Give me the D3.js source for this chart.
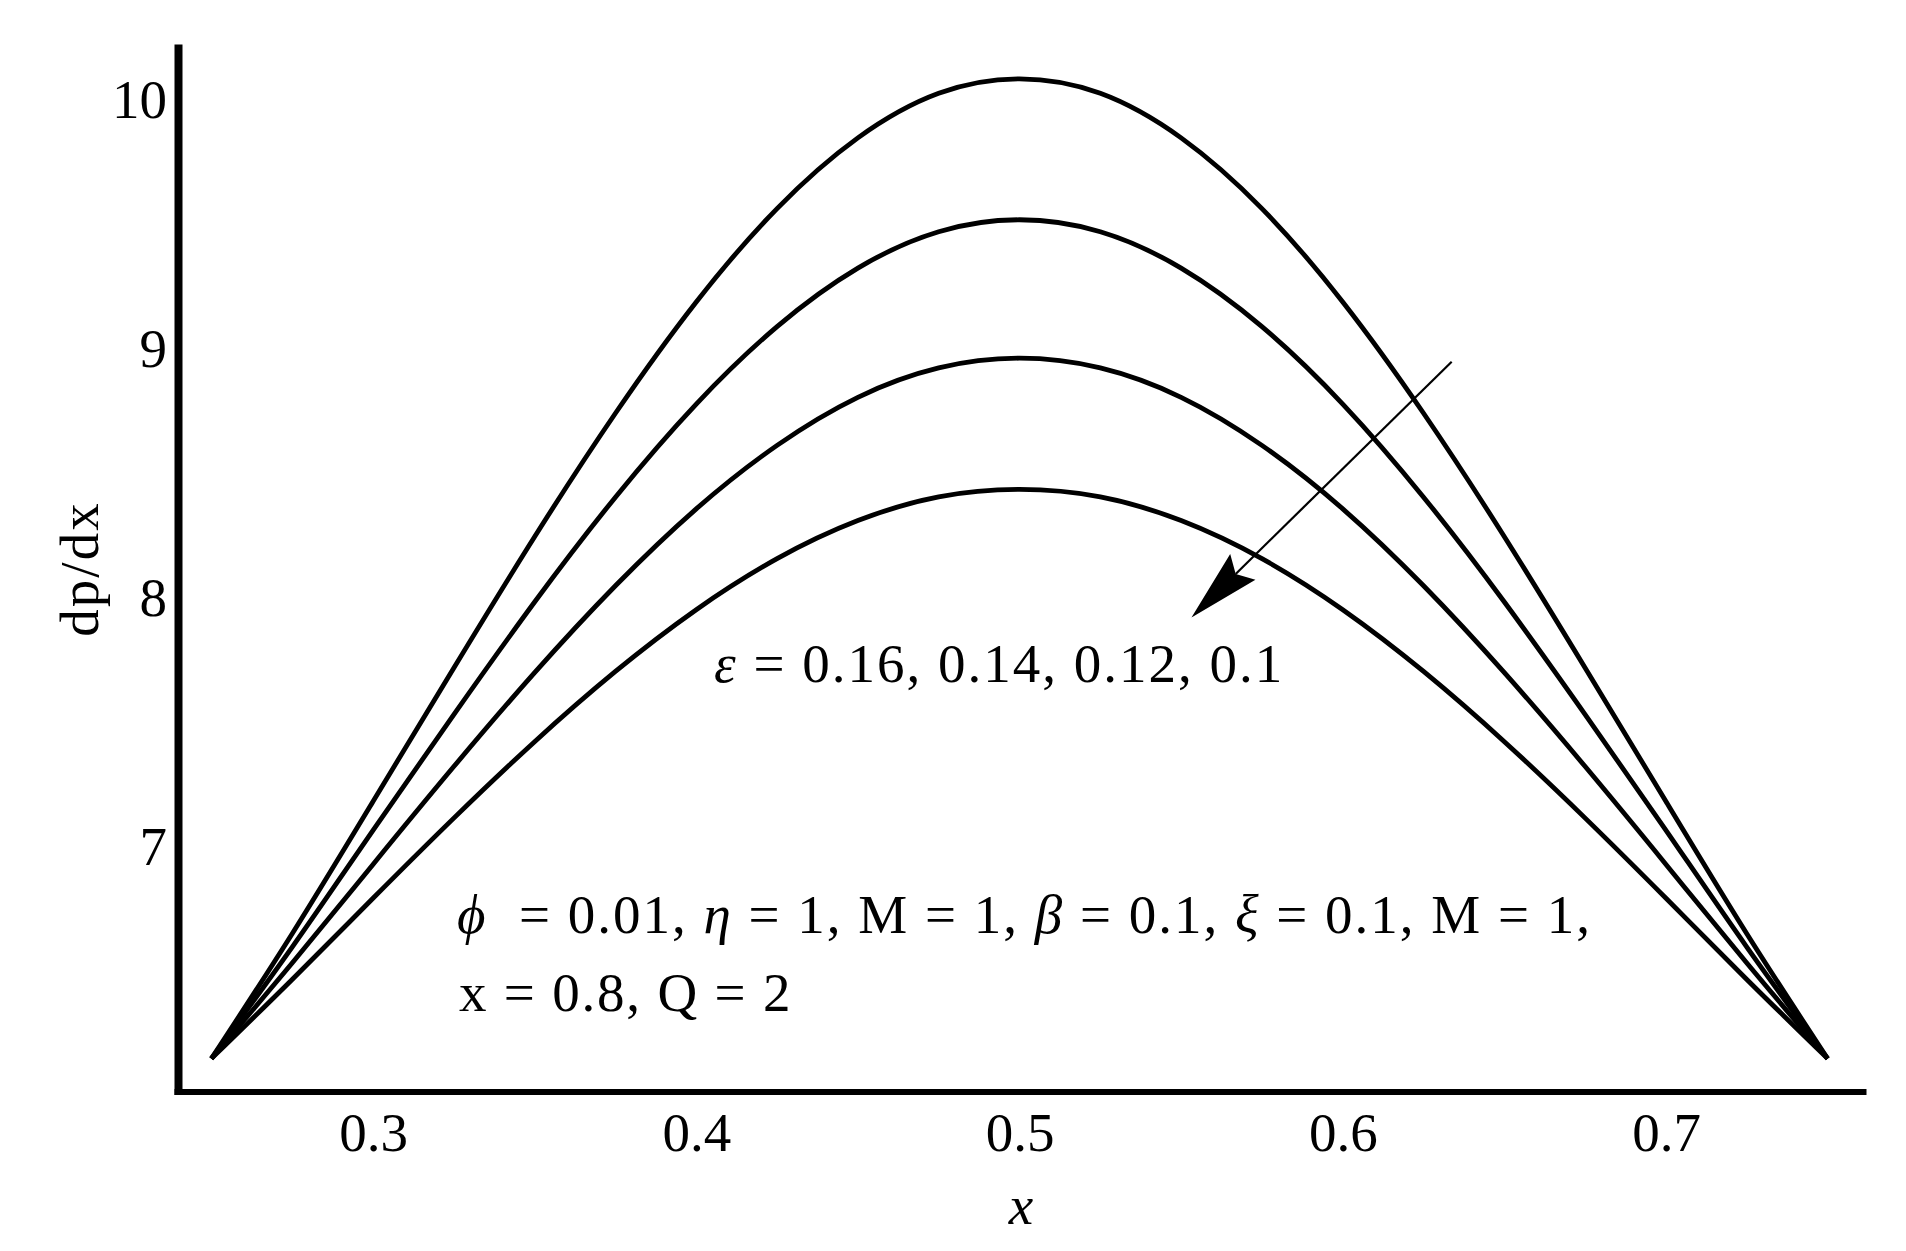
<!DOCTYPE html>
<html>
<head>
<meta charset="utf-8">
<script src="https://cdn.jsdelivr.net/npm/d3@7"></script>
<style>
    html, body { margin: 0; padding: 0; background: #fff; }
    svg { display: block; }
    text { font-family: "Liberation Serif", "Times New Roman", serif; fill: #000; white-space: pre; }
</style>
</head>
<body>
<svg id="chart" width="1906" height="1251"></svg>
<script>
// x positions along the wave (same grid for every curve)
const xValues = [0.25, 0.275, 0.3, 0.325, 0.35, 0.375, 0.4, 0.425, 0.45, 0.475, 0.5,
    0.525, 0.55, 0.575, 0.6, 0.625, 0.65, 0.675, 0.7, 0.725, 0.75];

// dp/dx for each epsilon
const eps016 = [6.150, 6.652, 7.183, 7.719, 8.246, 8.742, 9.189, 9.564, 9.848, 10.027, 10.085,
    10.027, 9.848, 9.564, 9.189, 8.742, 8.246, 7.719, 7.183, 6.652, 6.150];
const eps014 = [6.150, 6.598, 7.067, 7.532, 7.984, 8.405, 8.779, 9.090, 9.325, 9.471, 9.519,
    9.471, 9.325, 9.090, 8.779, 8.405, 7.984, 7.532, 7.067, 6.598, 6.150];
const eps012 = [6.150, 6.534, 6.930, 7.323, 7.700, 8.049, 8.358, 8.613, 8.806, 8.924, 8.963,
    8.924, 8.806, 8.613, 8.358, 8.049, 7.700, 7.323, 6.930, 6.534, 6.150];
const eps010 = [6.150, 6.468, 6.794, 7.116, 7.423, 7.705, 7.953, 8.158, 8.311, 8.406, 8.436,
    8.406, 8.311, 8.158, 7.953, 7.705, 7.423, 7.116, 6.794, 6.468, 6.150];

const xTicks = [0.3, 0.4, 0.5, 0.6, 0.7];
const yTicks = [7, 8, 9, 10];

// arrow in data units: [tail, tip]
const arrowPts = [[0.6337, 8.949], [0.5532, 7.922]];

const series = [eps016, eps014, eps012, eps010];

const svg = d3.select('#chart');

// scales anchored on the tick positions of the figure
const x = d3.scaleLinear().domain([0.3, 0.7]).range([373, 1666]);
x.domain([x.invert(174), x.invert(1866)]).range([174, 1866]);

const y = d3.scaleLinear().domain([7, 10]).range([847, 100]);
y.domain([y.invert(1094.5), y.invert(44)]).range([1094.5, 44]);

const xAxis = d3.axisBottom(x)
    .tickValues(xTicks)
    .tickFormat(d3.format('.1f'))
    .tickSize(0)
    .tickPadding(20);

const yAxis = d3.axisLeft(y)
    .tickValues(yTicks)
    .tickFormat(d3.format('d'))
    .tickSize(0)
    .tickPadding(11);

const gx = svg.append('g')
    .attr('transform', 'translate(0,1091.5)')
    .call(xAxis);
gx.select('.domain')
    .attr('stroke', '#000')
    .attr('stroke-width', 6);

const gy = svg.append('g')
    .attr('transform', 'translate(178,0)')
    .call(yAxis);
gy.select('.domain')
    .attr('stroke', '#000')
    .attr('stroke-width', 8);

svg.selectAll('.tick text')
    .attr('font-size', 55)
    .attr('font-family', '"Liberation Serif", serif')
    .attr('fill', '#000');

const line = d3.line()
    .x((d, i) => x(xValues[i]))
    .y((d) => y(d))
    .curve(d3.curveNatural);

svg.append('g')
    .selectAll('path')
    .data(series)
    .join('path')
    .attr('d', line)
    .attr('fill', 'none')
    .attr('stroke', '#000')
    .attr('stroke-width', 4.8);

// arrow
const tail = [x(arrowPts[0][0]), y(arrowPts[0][1])];
const tip = [x(arrowPts[1][0]), y(arrowPts[1][1])];
const len = Math.hypot(tip[0] - tail[0], tip[1] - tail[1]);
const ux = (tip[0] - tail[0]) / len;
const uy = (tip[1] - tail[1]) / len;
const headLen = 72;
const headW = 18;
const base = [tip[0] - headLen * ux, tip[1] - headLen * uy];
const notch = [tip[0] - (headLen - 10) * ux, tip[1] - (headLen - 10) * uy];

svg.append('line')
    .attr('x1', tail[0]).attr('y1', tail[1])
    .attr('x2', notch[0]).attr('y2', notch[1])
    .attr('stroke', '#000')
    .attr('stroke-width', 2.2);

svg.append('path')
    .attr('d', d3.line()([
        tip,
        [base[0] - headW * uy, base[1] + headW * ux],
        notch,
        [base[0] + headW * uy, base[1] - headW * ux]
    ]) + 'Z')
    .attr('fill', '#000');

// axis titles
svg.append('text')
    .attr('transform', 'translate(98,569) rotate(-90)')
    .attr('text-anchor', 'middle')
    .attr('font-size', 55)
    .attr('letter-spacing', 2)
    .text('dp/dx');

svg.append('text')
    .attr('x', 1021)
    .attr('y', 1224)
    .attr('text-anchor', 'middle')
    .attr('font-size', 55)
    .attr('font-style', 'italic')
    .text('x');

// annotations
const epsLabel = svg.append('text')
    .attr('x', 714)
    .attr('y', 682)
    .attr('font-size', 55)
    .attr('letter-spacing', 2);
epsLabel.append('tspan').attr('font-style', 'italic').text('ε');
epsLabel.append('tspan').text(' = 0.16, 0.14, 0.12, 0.1');

const params = svg.append('text')
    .attr('x', 457)
    .attr('y', 933)
    .attr('font-size', 55)
    .attr('letter-spacing', 2);
params.append('tspan').attr('font-style', 'italic').text('ϕ');
params.append('tspan').text('  = 0.01, ');
params.append('tspan').attr('font-style', 'italic').text('η');
params.append('tspan').text(' = 1, M = 1, ');
params.append('tspan').attr('font-style', 'italic').text('β');
params.append('tspan').text(' = 0.1, ');
params.append('tspan').attr('font-style', 'italic').text('ξ');
params.append('tspan').text(' = 0.1, M = 1,');

svg.append('text')
    .attr('x', 459)
    .attr('y', 1011)
    .attr('font-size', 55)
    .attr('letter-spacing', 1.8)
    .text('x = 0.8, Q = 2');
</script>
</body>
</html>
